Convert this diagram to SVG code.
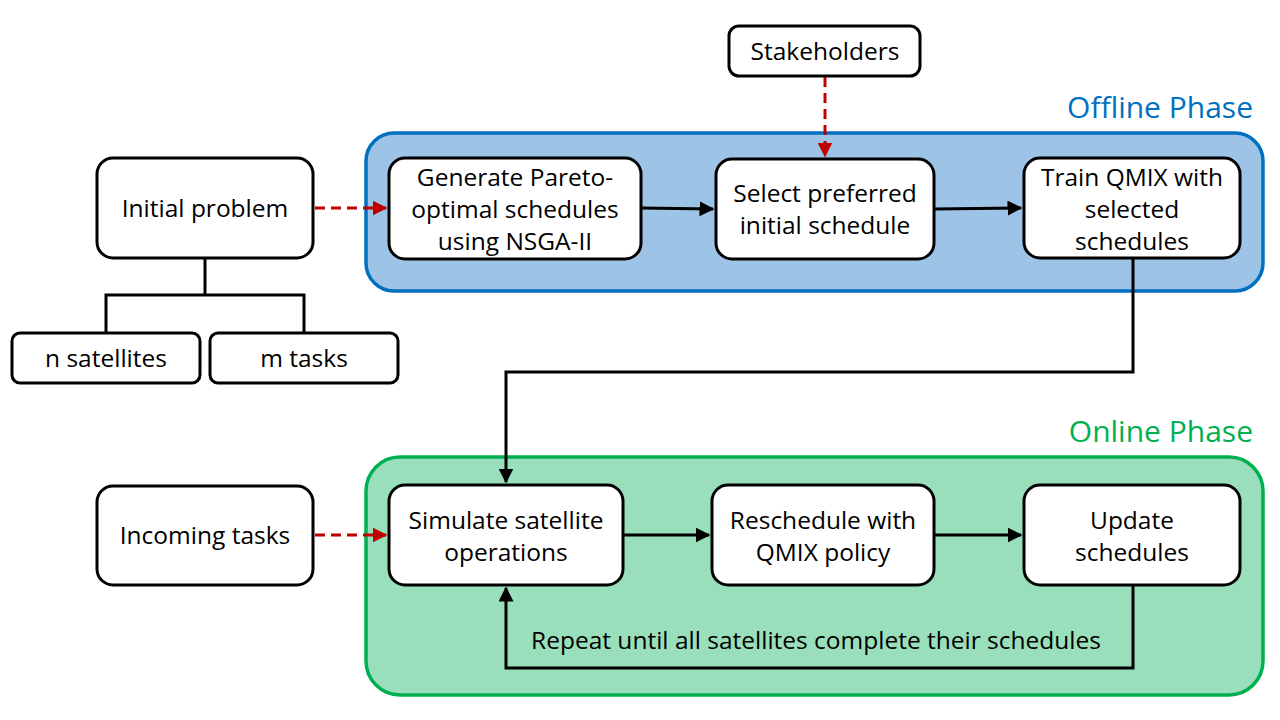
<svg xmlns="http://www.w3.org/2000/svg" width="1280" height="720" viewBox="0 0 1280 720">
<defs>
<marker id="ab" viewBox="0 0 10 10" refX="9" refY="5" markerWidth="5" markerHeight="5" orient="auto" markerUnits="strokeWidth"><path d="M0,0 L10,5 L0,10 z" fill="#000"/></marker>
<marker id="ar" viewBox="0 0 10 10" refX="9" refY="5" markerWidth="5" markerHeight="5" orient="auto" markerUnits="strokeWidth"><path d="M0,0 L10,5 L0,10 z" fill="#C00000"/></marker>
<style>
.n rect{fill:#fff;stroke:#000;stroke-width:3}
text{font-family:"Open Sans","Liberation Sans",sans-serif;font-size:24.5px;fill:#000;text-anchor:middle}
.ph{font-size:30px;text-anchor:end}
.k{fill:none;stroke:#000;stroke-width:3}
.d{fill:none;stroke:#C00000;stroke-width:3;stroke-dasharray:10 6}
</style>
</defs>
<rect width="1280" height="720" fill="#fff"/>
<g id="offline">
<rect x="366" y="133" width="897" height="158" rx="28" fill="#9DC3E6" stroke="#0070C0" stroke-width="3.5"/>
<text class="ph" x="1253" y="118" style="fill:#0070C0">Offline Phase</text>
</g>
<g id="online">
<rect x="366" y="457" width="897" height="238" rx="34" fill="#9ADFBB" stroke="#00B050" stroke-width="3.5"/>
<text class="ph" x="1253" y="442" style="fill:#00B050">Online Phase</text>
</g>
<g id="connectors">
<path class="k" d="M205,258 V295 M106,333 V295 H304 V333"/>
<path class="d" d="M315,208 H386" marker-end="url(#ar)"/>
<path class="d" d="M825,77 V156" marker-end="url(#ar)"/>
<path class="d" d="M315,535 H386" marker-end="url(#ar)"/>
<path class="k" d="M641,208 L713,209" marker-end="url(#ab)"/>
<path class="k" d="M934,209 L1021,208" marker-end="url(#ab)"/>
<path class="k" d="M623,535 H709" marker-end="url(#ab)"/>
<path class="k" d="M934,535 H1021" marker-end="url(#ab)"/>
<path class="k" d="M1133,258 V372 H506 V482" marker-end="url(#ab)"/>
<path class="k" d="M1133,585 V668 H506 V588" marker-end="url(#ab)"/>
<text x="816" y="649">Repeat until all satellites complete their schedules</text>
</g>
<g id="stakeholders" class="n"><rect x="729" y="26" width="191" height="50" rx="10"/><text x="825" y="60">Stakeholders</text></g>
<g id="initial" class="n"><rect x="97" y="158" width="216" height="100" rx="16"/><text x="205" y="217">Initial problem</text></g>
<g id="nsat" class="n"><rect x="12" y="333" width="188" height="50" rx="8"/><text x="106" y="367">n satellites</text></g>
<g id="mtasks" class="n"><rect x="210" y="333" width="188" height="50" rx="8"/><text x="304" y="367">m tasks</text></g>
<g id="generate" class="n"><rect x="389" y="158" width="252" height="101" rx="16"/><text x="515" y="186">Generate Pareto-</text><text x="515" y="218">optimal schedules</text><text x="515" y="250">using NSGA-II</text></g>
<g id="select" class="n"><rect x="716" y="159" width="218" height="100" rx="16"/><text x="825" y="202">Select preferred</text><text x="825" y="234">initial schedule</text></g>
<g id="train" class="n"><rect x="1024" y="158" width="216" height="100" rx="16"/><text x="1132" y="186">Train QMIX with</text><text x="1132" y="218">selected</text><text x="1132" y="250">schedules</text></g>
<g id="incoming" class="n"><rect x="97" y="486" width="216" height="99" rx="16"/><text x="205" y="544">Incoming tasks</text></g>
<g id="simulate" class="n"><rect x="389" y="485" width="234" height="100" rx="16"/><text x="506" y="529">Simulate satellite</text><text x="506" y="561">operations</text></g>
<g id="reschedule" class="n"><rect x="712" y="485" width="222" height="100" rx="16"/><text x="823" y="529">Reschedule with</text><text x="823" y="561">QMIX policy</text></g>
<g id="update" class="n"><rect x="1024" y="485" width="216" height="100" rx="16"/><text x="1132" y="529">Update</text><text x="1132" y="561">schedules</text></g>
</svg>
